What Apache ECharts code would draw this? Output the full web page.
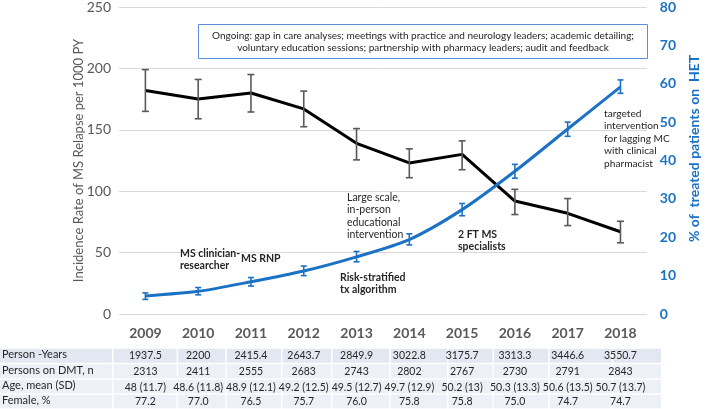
<!DOCTYPE html>
<html><head><meta charset="utf-8">
<script src="https://cdn.jsdelivr.net/npm/echarts@6/dist/echarts.min.js"></script>
<style>html,body{margin:0;padding:0;background:#fff}#c{width:709px;height:409px}</style>
</head><body><div id="c"></div>
<script>
// ---- data ----
const years = ['2009','2010','2011','2012','2013','2014','2015','2016','2017','2018'];
const relapseRate = [182, 175, 180, 167, 139, 123, 130, 92, 82, 67];
const relapseLow  = [165, 159, 164.5, 152.5, 125.5, 111, 117.5, 81, 72, 58];
const relapseHigh = [199, 191, 195, 181.5, 151, 134.5, 141, 101.5, 94, 75.5];
const hetPct  = [4.7, 5.9, 8.4, 11.2, 14.9, 19.4, 27.2, 37.2, 48.2, 59.2];
const hetLow  = [3.8, 5.0, 7.3, 10.0, 13.6, 18.0, 25.6, 35.4, 46.3, 57.5];
const hetHigh = [5.5, 6.9, 9.5, 12.5, 16.3, 20.9, 28.8, 39.0, 50.0, 61.0];
const leftTicks = {min: 0, max: 250, interval: 50};
const rightTicks = {min: 0, max: 80, interval: 10};
const tableRowLabels = ['Person -Years', 'Persons on DMT, n', 'Age, mean (SD)', 'Female, %'];
const personYears = ['1937.5','2200','2415.4','2643.7','2849.9','3022.8','3175.7','3313.3','3446.6','3550.7'];
const personsOnDMT = ['2313','2411','2555','2683','2743','2802','2767','2730','2791','2843'];
const ageMeanSD = ['48 (11.7)','48.6 (11.8)','48.9 (12.1)','49.2 (12.5)','49.5 (12.7)','49.7 (12.9)','50.2 (13)','50.3 (13.3)','50.6 (13.5)','50.7 (13.7)'];
const femalePct = ['77.2','77.0','76.5','75.7','76.0','75.8','75.8','75.0','74.7','74.7'];
const ongoingText = 'Ongoing: gap in care analyses; meetings with practice and neurology leaders; academic detailing;\nvoluntary education sessions; partnership with pharmacy leaders; audit and feedback';

// ---- chart ----
const FONT = 'Lato';
const BLUE = '#1b72c4';
const GRAY = '#595959';
const chart = echarts.init(document.getElementById('c'), null, {renderer: 'canvas'});

function errBars(low, high, color, half) {
  return {
    type: 'custom',
    yAxisIndex: color === BLUE ? 1 : 0,
    z: 5,
    data: low.map((l, i) => [i, l, high[i]]),
    renderItem: function (params, api) {
      const x = api.value(0);
      const p1 = api.coord([x, api.value(1)]);
      const p2 = api.coord([x, api.value(2)]);
      const st = {stroke: color, lineWidth: 1.6};
      return {type: 'group', children: [
        {type: 'line', shape: {x1: p1[0], y1: p1[1], x2: p2[0], y2: p2[1]}, style: st},
        {type: 'line', shape: {x1: p1[0]-half, y1: p1[1], x2: p1[0]+half, y2: p1[1]}, style: st},
        {type: 'line', shape: {x1: p2[0]-half, y1: p2[1], x2: p2[0]+half, y2: p2[1]}, style: st}
      ]};
    }
  };
}

const tableRows = [personYears, personsOnDMT, ageMeanSD, femalePct];
const rowCenters = [42, 58, 73.5, 88];
const tableAxes = tableRows.map((row, k) => ({
  type: 'category', data: row, position: 'bottom', offset: rowCenters[k],
  axisLine: {show: false}, axisTick: {show: false}, splitLine: {show: false},
  axisLabel: {interval: 0, margin: 0, verticalAlign: 'middle', fontFamily: FONT, fontSize: 10.5, color: '#262626'}
}));

// table background (uneven column boundaries as in the reference)
const colEdges = [0, 112.7, 177.3, 226, 281.7, 331.7, 390, 447.7, 493.3, 549, 612.3, 661.7];
const rowEdges = [348, 363.5, 379, 394, 409];
const tableGraphics = [];
for (let r = 0; r < 4; r++) {
  for (let c = 0; c < colEdges.length - 1; c++) {
    tableGraphics.push({type: 'rect', silent: true, z: -1,
      shape: {x: colEdges[c] + (c ? 0.75 : 0), y: rowEdges[r] + 0.75, width: colEdges[c+1] - colEdges[c] - (c ? 1.5 : 0.75), height: rowEdges[r+1] - rowEdges[r] - 1.5},
      style: {fill: r === 0 ? '#e3e7f1' : '#edf0f6'}});
  }
  tableGraphics.push({type: 'text', silent: true, left: 2, top: (rowEdges[r] + rowEdges[r+1]) / 2 - 6.5,
    style: {text: tableRowLabels[r], font: '11px ' + FONT, fill: '#262626'}});
}

const annBold = {fontFamily: FONT, fontSize: 10.5, fontWeight: 'bold', fill: '#262626', lineHeight: 12.5};
const annNorm = {fontFamily: FONT, fontSize: 10.5, fill: '#262626', lineHeight: 12.6};
function ann(x, y, text, st) {
  return {type: 'text', x: x, y: y, silent: true, z: 10, style: Object.assign({text: text}, st)};
}

chart.setOption({
  animation: false,
  grid: {left: 119, right: 51, top: 6, bottom: 95, containLabel: false},
  xAxis: [{
    type: 'category', data: years, boundaryGap: true,
    axisLine: {show: false}, axisTick: {show: false},
    axisLabel: {margin: 12, fontFamily: FONT, fontSize: 14, fontWeight: 'bold', color: GRAY}
  }].concat(tableAxes),
  yAxis: [{
    type: 'value', min: leftTicks.min, max: leftTicks.max, interval: leftTicks.interval,
    name: 'Incidence Rate of MS Relapse per 1000 PY', nameLocation: 'middle', nameGap: 34,
    nameMoveOverlap: false,
    nameTextStyle: {fontFamily: FONT, fontSize: 13, color: GRAY},
    axisLine: {show: false}, axisTick: {show: false},
    axisLabel: {margin: 8, fontFamily: FONT, fontSize: 14, color: GRAY},
    splitLine: {lineStyle: {color: '#d9d9d9', width: 1}}
  }, {
    type: 'value', min: rightTicks.min, max: rightTicks.max, interval: rightTicks.interval,
    position: 'right',
    name: '% of  treated patients on  HET', nameLocation: 'middle', nameGap: 32, nameRotate: 90,
    nameTextStyle: {fontFamily: FONT, fontSize: 14, fontWeight: 'bold', color: BLUE, padding: [0, 0, 0, 24]},
    axisLine: {show: false}, axisTick: {show: false},
    axisLabel: {margin: 13, fontFamily: FONT, fontSize: 14, fontWeight: 'bold', color: BLUE},
    splitLine: {show: false}
  }],
  series: [
    {type: 'line', data: relapseRate, yAxisIndex: 0, symbol: 'none', z: 3,
      lineStyle: {color: '#000', width: 3}},
    errBars(relapseLow, relapseHigh, '#595959', 3.5),
    {type: 'line', data: hetPct, yAxisIndex: 1, symbol: 'none', smooth: 0.25, z: 4,
      lineStyle: {color: BLUE, width: 3}},
    errBars(hetLow, hetHigh, BLUE, 3)
  ],
  graphic: tableGraphics.concat([
    {type: 'rect', silent: true, z: 8, shape: {x: 198.5, y: 24.5, width: 449, height: 34},
      style: {fill: '#fff', stroke: '#5b8fd9', lineWidth: 1}},
    {type: 'text', silent: true, z: 9, x: 423, y: 29.5,
      style: {text: ongoingText, align: 'center', fontFamily: FONT, fontSize: 10, fill: '#262626', lineHeight: 12.5}},
    ann(180, 247, 'MS clinician-\nresearcher', annBold),
    ann(241, 252, 'MS RNP', annBold),
    ann(347, 191, 'Large scale,\nin-person\neducational\nintervention', annNorm),
    ann(340, 271, 'Risk-stratified\ntx algorithm', annBold),
    ann(458, 228, '2 FT MS\nspecialists', annBold),
    ann(604, 107, 'targeted\nintervention\nfor lagging MC\nwith clinical\npharmacist',
      Object.assign({}, annNorm, {fontSize: 10.2}))
  ])
});
</script>
</body></html>
